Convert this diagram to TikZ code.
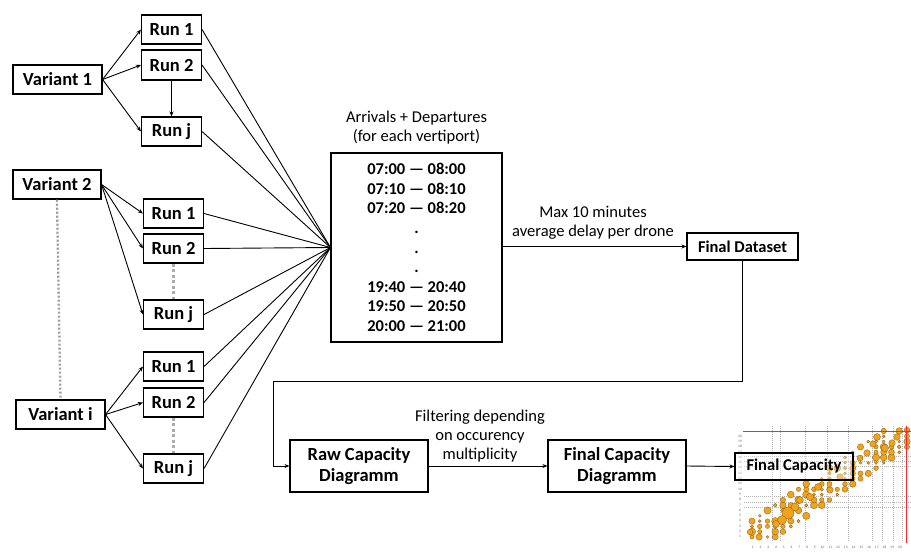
\documentclass[tikz,border=0pt]{standalone}
\usepackage{fontspec}
\setmainfont{Carlito}
\usetikzlibrary{arrows.meta}
\definecolor{dotor}{HTML}{F2A31B}
\definecolor{dotedge}{HTML}{8A5A10}
\begin{document}
\begin{tikzpicture}[x=1pt,y=-1pt,
  box/.style={draw, line width=1.1pt, font=\bfseries\fontsize{18.5}{21}\selectfont, inner sep=0pt, minimum width=60pt, minimum height=29pt, align=center},
  varbox/.style={box, minimum width=89pt},
  smallbox/.style={box, font=\bfseries\fontsize{16.5}{20}\selectfont},
  arr/.style={-{Stealth[length=5pt,width=4pt]}, line width=0.9pt},
  ln/.style={line width=0.9pt},
  lbl/.style={font=\fontsize{16.5}{19}\selectfont, align=center, inner sep=0pt},
  vdots/.style={draw=gray!75, line width=2.3pt, dash pattern=on 2.2pt off 1.8pt},
  rdots/.style={draw=gray!65, line width=3pt, dash pattern=on 3pt off 2.5pt},
  grid/.style={draw=gray!60, line width=0.6pt, dash pattern=on 1pt off 1pt},
  tick/.style={font=\fontsize{3.5}{4}\selectfont, text=gray!70!black, inner sep=0pt},
  ]
\useasboundingbox (0,0) rectangle (911,552);

% ---------------- chart (background image) ----------------
\foreach \yy in {456,461,466,496,502,507}
  \draw[grid] (744,\yy) -- (911,\yy);
\foreach \xx in {772,780,805,827,848,872,882,893,902}
  \draw[grid] (\xx,426) -- (\xx,542);
\pgfmathsetseed{42}
\foreach \i in {0,...,20}{
  \foreach \j in {0,...,20}{
    \pgfmathtruncatemacro{\ok}{(abs(\i-\j)<=3)*(rnd<0.75)}
    \ifnum\ok=1
      \pgfmathsetmacro{\rad}{1.3+2.4*rnd}
      \fill[dotor, draw=dotedge, line width=0.3pt] (752+7.75*\i, 537-5.3*\j) circle[radius=\rad];
    \fi
  }
}
\foreach \cx/\cy/\cr in {788/513/6,782/520/4.5,795/507/4,776/524/3.5,759/537/3.2,750/532/2.8,818/487/3.5,810/497/3.6,840/477/3.3,867/453/3.3,877/437/3.5,892/443/3.3,907/430/2.8,885/448/3.6,860/458/3,830/490/3.2,800/500/3.4,873/444/3.2,897/437/3.3}
  \fill[dotor, draw=dotedge, line width=0.3pt] (\cx,\cy) circle[radius=\cr];
\draw[red!85, line width=0.9pt] (743,431) -- (911,431);
\draw[red!85, line width=0.9pt] (906,426) -- (906,543);
\foreach \k in {1,...,20}{
  \node[tick] (yt\k) at (740,542-5.3*\k) {\k};
  \node[tick] (xt\k) at (745+7.75*\k,547) {\k};
}

% ---------------- Variant 1 ----------------
\node[varbox] (v1) at (57.5,79.5) {Variant 1};
\node[box] (r11) at (171.5,29.5) {Run 1};
\node[box, minimum height=30pt] (r12) at (171.5,65) {Run 2};
\node[box] (r1j) at (171.5,131.5) {Run j};
\draw[arr] (v1.east) -- (r11.west);
\draw[arr] (v1.east) -- (r12.west);
\draw[arr] (v1.east) -- (r1j.west);
\draw[arr] (r12.south) -- (r1j.north);

% ---------------- Variant 2 ----------------
\node[varbox, minimum width=88pt] (v2) at (57,184.5) {Variant 2};
\node[box] (r21) at (173.5,213.5) {Run 1};
\node[box] (r22) at (173.5,248.5) {Run 2};
\node[box] (r2j) at (173.5,314.5) {Run j};
\draw[arr] (v2.east) -- (r21.west);
\draw[arr] (v2.east) -- (r22.west);
\draw[arr] (v2.east) -- (r2j.west);
\draw[rdots] (r22.south) -- (r2j.north);

% ---------------- Variant i ----------------
\node[varbox] (vi) at (60.5,414.5) {Variant i};
\node[box] (ri1) at (173.5,366.5) {Run 1};
\node[box] (ri2) at (173.5,402.5) {Run 2};
\node[box] (rij) at (173.5,468.5) {Run j};
\draw[arr] (vi.east) -- (ri1.west);
\draw[arr] (vi.east) -- (ri2.west);
\draw[arr] (vi.east) -- (rij.west);
\draw[rdots] (ri2.south) -- (rij.north);
\draw[vdots] (v2.south) -- (vi.north);

% ---------------- time windows ----------------
\node[draw, line width=1.1pt, minimum width=171pt, minimum height=189pt, inner sep=0pt,
      align=center, font=\bfseries\fontsize{16.5}{19.6}\selectfont] (tw) at (416.5,247.5)
  {07:00 — 08:00\\07:10 — 08:10\\07:20 — 08:20\\.\\.\\.\\19:40 — 20:40\\19:50 — 20:50\\20:00 — 21:00};
\node[lbl] (twl) at (416.5,128) {Arrivals + Departures\\(for each vertiport)};
\coordinate (conv) at (tw.west);
\foreach \r in {r11,r12,r1j,r21,r22,r2j,ri1,ri2,rij}
  \draw[ln] (\r.east) -- (conv);

% ---------------- final dataset ----------------
\node[smallbox, minimum width=111pt, minimum height=27pt] (fd) at (742.5,246.5) {Final Dataset};
\draw[arr] (tw.east |- fd.west) -- (fd.west);
\node[lbl] (fdl) at (593,222.5) {Max 10 minutes\\average delay per drone};

% ---------------- capacity diagrams ----------------
\node[box, minimum width=138pt, minimum height=52pt, font=\bfseries\fontsize{18.5}{21}\selectfont] (raw) at (359,466) {Raw Capacity\\Diagramm};
\node[box, minimum width=138pt, minimum height=52pt, font=\bfseries\fontsize{18.5}{21}\selectfont] (fcd) at (617,466) {Final Capacity\\Diagramm};
\coordinate (c1) at (273,381);
\draw[arr] (fd.south) |- (c1) |- (raw.west);
\draw[arr] (raw.east) -- (fcd.west);
\node[lbl] (fl) at (480,436.5) {Filtering depending\\on occurency\\multiplicity};

\node[smallbox, minimum width=118pt, minimum height=27pt, fill=white, fill opacity=0.35, text opacity=1] (fcap) at (794,466.5) {Final Capacity};
\draw[arr] (fcd.east) -- (fcap.west);
\end{tikzpicture}
\end{document}
